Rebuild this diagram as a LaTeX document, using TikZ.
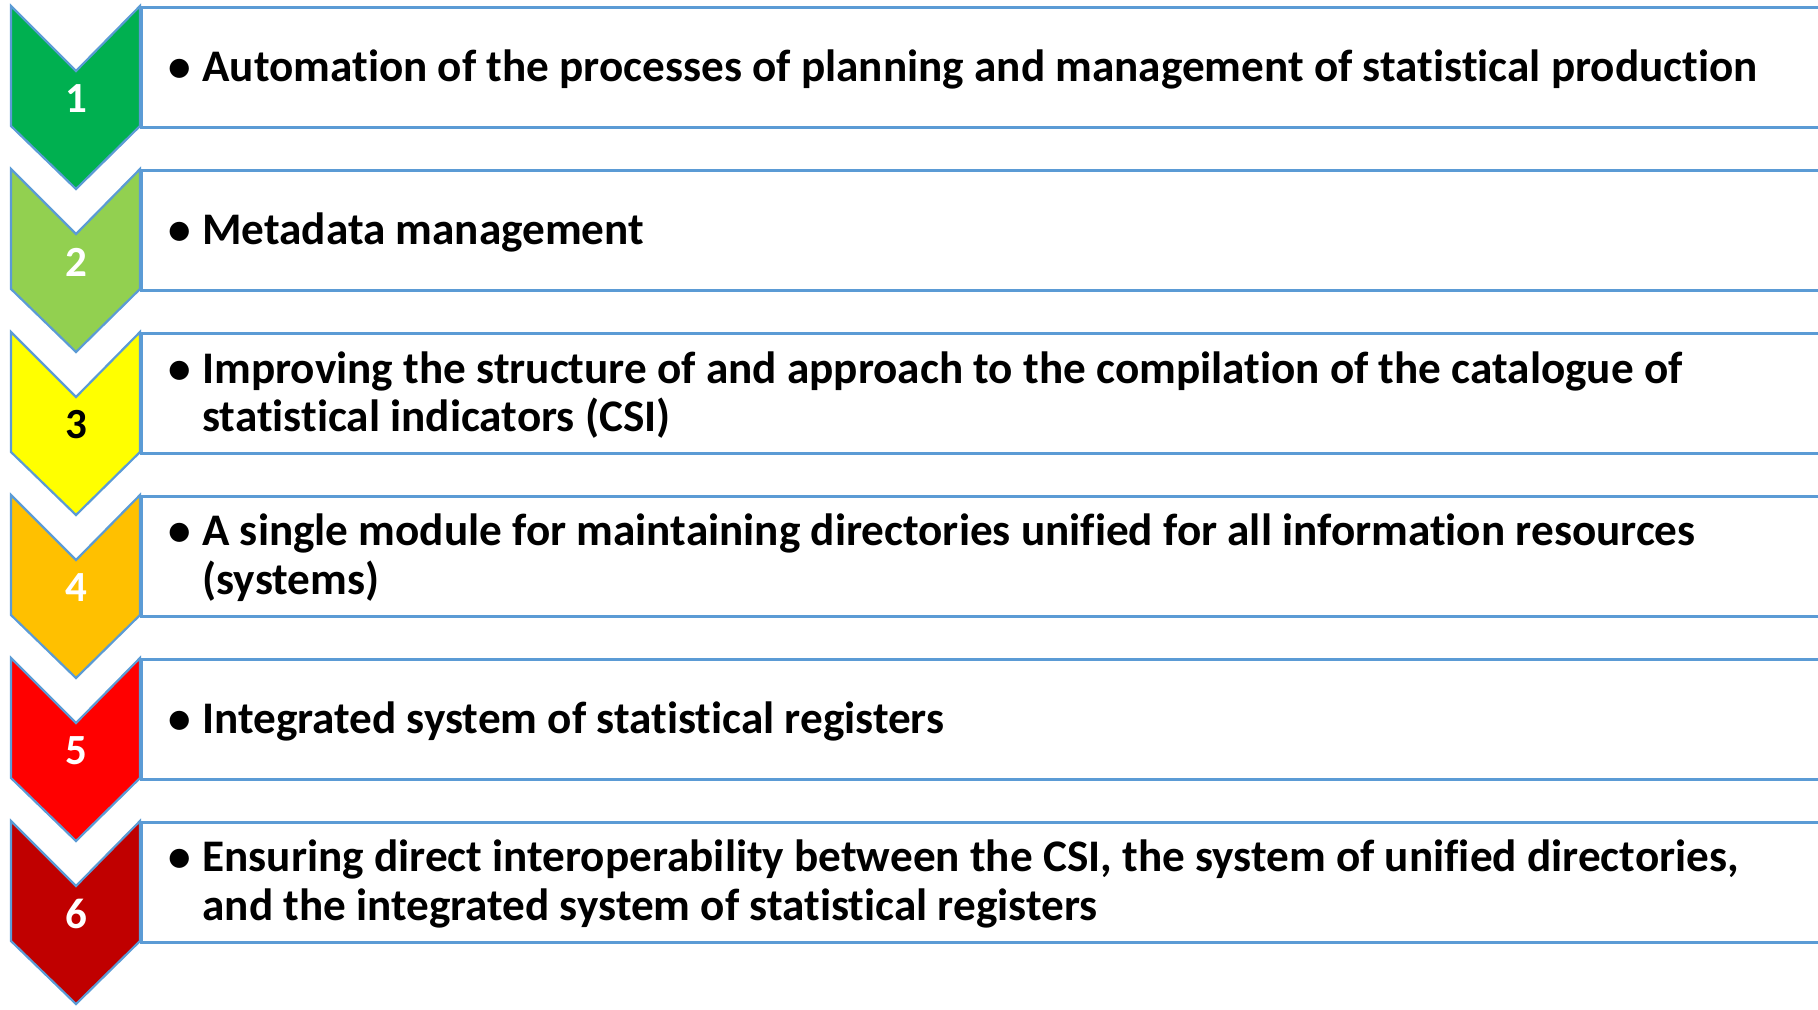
\documentclass[tikz,border=0pt]{standalone}
\usepackage{fontspec}
\setmainfont[Ligatures=NoCommon]{Carlito}
\usetikzlibrary{calc, positioning}

\definecolor{edgeblue}{HTML}{5B9BD5}
\definecolor{stepA}{HTML}{00B050}
\definecolor{stepB}{HTML}{92D050}
\definecolor{stepC}{HTML}{FFFF00}
\definecolor{stepD}{HTML}{FFC000}
\definecolor{stepE}{HTML}{FF0000}
\definecolor{stepF}{HTML}{C00000}

\newcommand{\itemdot}{\makebox[17pt][l]{\textbullet}}
\newcommand{\itemgap}{\hspace*{17pt}}

\tikzset{
  itembox/.style={draw=edgeblue, line width=1.4pt, fill=white, rectangle,
    minimum width=1700, minimum height=60pt, inner sep=0pt, anchor=north west},
  itemtext/.style={anchor=west, align=left, inner sep=0pt,
    font=\fontsize{22.6}{24.4}\selectfont\bfseries},
  stepnum/.style={font=\fontsize{21.5}{24}\selectfont\bfseries}
}

\begin{document}
\begin{tikzpicture}[x=0.5pt, y=-0.5pt]
  \useasboundingbox (0,0) rectangle (1818,1009);
  \foreach \i/\col/\numcol/\txt in {
      1/stepA/white/{\itemdot Automation of the processes of planning and management of statistical production},
      2/stepB/white/{\itemdot Metadata management},
      3/stepC/black/{\itemdot Improving the structure of and approach to the compilation of the catalogue of\\\itemgap statistical indicators (CSI)},
      4/stepD/white/{\itemdot A single module for maintaining directories unified for all information resources\\\itemgap (systems)},
      5/stepE/white/{\itemdot Integrated system of statistical registers},
      6/stepF/white/{\itemdot Ensuring direct interoperability between the CSI, the system of unified directories,\\\itemgap and the integrated system of statistical registers}} {
    \pgfmathsetmacro{\top}{6+163*(\i-1)}
    % chevron
    \draw [edgeblue, line width=1.1pt, fill=\col, line join=miter]
      (11,\top) -- (76,\top+65) -- (140,\top) -- (140,\top+120)
      -- (76,\top+183) -- (11,\top+120) -- cycle;
    \node [stepnum, text=\numcol] (num\i) at (76,\top+93) {\i};
    % item box and text
    \node [itembox] (box\i) at (140,\top) {};
    \node [itemtext] (txt\i) at (168,\top+63) {\txt};
  }
\end{tikzpicture}
\end{document}
